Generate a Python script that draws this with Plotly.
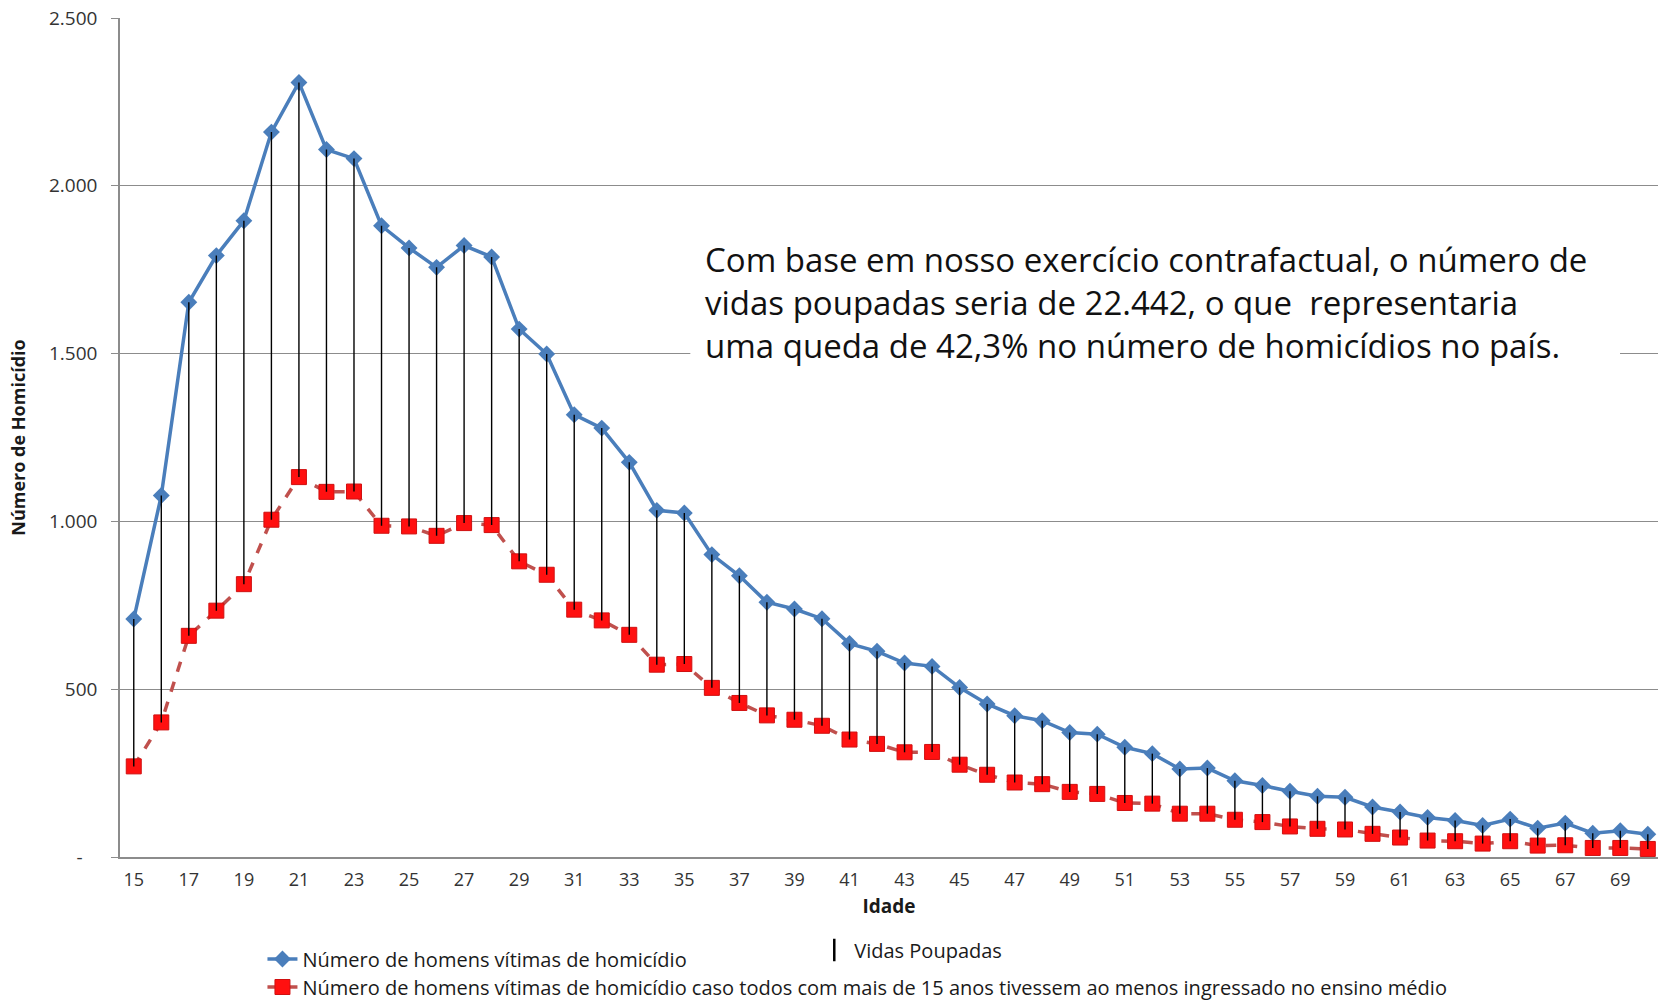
import plotly.graph_objects as go

# ---------------- data ----------------
ages = list(range(15, 71))
homicidios = [709, 1077, 1653, 1792, 1896, 2160, 2308, 2108, 2081, 1881, 1815, 1757, 1822, 1788,
              1573, 1499, 1318, 1278, 1176, 1033, 1025, 901, 838, 759, 739, 710, 636, 613, 578,
              568, 505, 456, 421, 406, 371, 366, 327, 308, 262, 265, 227, 213, 196, 181, 178,
              149, 134, 118, 109, 94, 113, 86, 101, 71, 78, 68]
contrafactual = [270, 401, 659, 734, 813, 1005, 1132, 1088, 1089, 987, 985, 957, 995, 989, 881,
                 841, 737, 705, 662, 573, 575, 504, 459, 422, 409, 391, 350, 337, 312, 313, 275,
                 245, 222, 217, 194, 188, 161, 159, 129, 129, 111, 104, 91, 84, 82, 69, 58, 49,
                 47, 40, 47, 34, 35, 27, 27, 24]
y_tickvals = [0, 500, 1000, 1500, 2000, 2500]
y_ticktext = ["-\u00a0\u00a0\u00a0", "500", "1.000", "1.500", "2.000", "2.500"]

name_blue = "Número de homens vítimas de homicídio"
name_red = ("Número de homens vítimas de homicídio caso todos com mais de 15 anos "
            "tivessem ao menos ingressado no ensino médio")
name_gap = "Vidas Poupadas"
note = ("Com base em nosso exercício contrafactual, o número de<br>"
        "vidas poupadas seria de 22.442, o que  representaria<br>"
        "uma queda de 42,3% no número de homicídios no país.")

# ---------------- geometry (pixels) ----------------
W, H = 1658, 1004
ML, MR, MT, MB = 119.5, 0, 18, 147
PW, PH = W - ML - MR, H - MT - MB


def px(x):
    return (x - ML) / PW


def py(y):
    return (H - MB - y) / PH


# vertical "vidas poupadas" lines built from data
vx, vy = [], []
for a, hi, lo in zip(ages, homicidios, contrafactual):
    vx += [a, a, None]
    vy += [lo, hi, None]

FONT = "Open Sans, Liberation Sans, Arial, sans-serif"

fig = go.Figure()

fig.add_trace(go.Scatter(
    x=ages, y=homicidios, mode="lines+markers", name=name_blue,
    line=dict(color="#4A7EBB", width=3.5),
    marker=dict(symbol="diamond", size=13, color="#4A7EBB"),
    legend="legend",
))
fig.add_trace(go.Scatter(
    x=ages, y=contrafactual, mode="lines+markers", name=name_red,
    line=dict(color="#C0504D", width=3.5, dash="dash"),
    marker=dict(symbol="square", size=15, color="#FF1010",
                line=dict(color="#D01010", width=1)),
    legend="legend3",
))
fig.add_trace(go.Scatter(
    x=vx, y=vy, mode="lines", name=name_gap, showlegend=False,
    line=dict(color="black", width=1.4), hoverinfo="skip",
))
# legend-only entry for the gap lines
fig.add_trace(go.Scatter(
    x=[None], y=[None], mode="markers", name=name_gap,
    marker=dict(symbol="line-ns", size=22, line=dict(color="black", width=2.5)),
    legend="legend2",
))

# white box behind the note (hides the gridline like the original)
fig.add_shape(type="rect", xref="paper", yref="paper",
              x0=px(690), x1=px(1620), y0=py(380), y1=py(232),
              fillcolor="white", line=dict(width=0), layer="above")

fig.add_annotation(
    xref="paper", yref="paper", x=px(703), y=py(303),
    xanchor="left", yanchor="middle",
    text=note, showarrow=False, align="left",
    font=dict(family=FONT, size=33, color="#111111"),
)

legend_common = dict(
    bgcolor="rgba(0,0,0,0)", xanchor="left", yanchor="middle", orientation="h",
)

fig.update_layout(
    width=W, height=H,
    margin=dict(l=ML, r=MR, t=MT, b=MB, pad=0, autoexpand=False),
    paper_bgcolor="white", plot_bgcolor="white",
    font=dict(family=FONT, color="#333333"),
    legend=dict(x=px(262), y=py(959), font=dict(family=FONT, size=20, color="#1a1a1a"),
                **legend_common),
    legend2=dict(x=px(814), y=py(950), font=dict(family=FONT, size=20, color="#1a1a1a"),
                 **legend_common),
    legend3=dict(x=px(262), y=py(987), font=dict(family=FONT, size=20, color="#1a1a1a"),
                 **legend_common),
    xaxis=dict(
        range=[14.5, 70.37], tick0=15, dtick=2, showgrid=False, zeroline=False,
        showline=True, linecolor="#8c8c8c", linewidth=1.5, ticks="",
        tickfont=dict(family=FONT, size=18, color="#333333"),
        ticklabelstandoff=6,
        title=dict(text="<b>Idade</b>", font=dict(family=FONT, size=19, color="#1a1a1a"),
                   standoff=9),
    ),
    yaxis=dict(
        range=[0, 2500], tickvals=y_tickvals, ticktext=y_ticktext,
        showgrid=True, gridcolor="#8c8c8c", gridwidth=1.2, zeroline=False,
        showline=True, linecolor="#8c8c8c", linewidth=1.5,
        ticks="outside", ticklen=7, tickcolor="#8c8c8c",
        tickfont=dict(family=FONT, size=19, color="#333333"),
        ticklabelstandoff=10,
        title=dict(text="<b>Número de Homicídio</b>",
                   font=dict(family=FONT, size=18, color="#1a1a1a"), standoff=19),
    ),
    showlegend=True,
)

fig.write_html("out.html", config={"displayModeBar": False},
               post_script="document.body.style.margin='0';")
